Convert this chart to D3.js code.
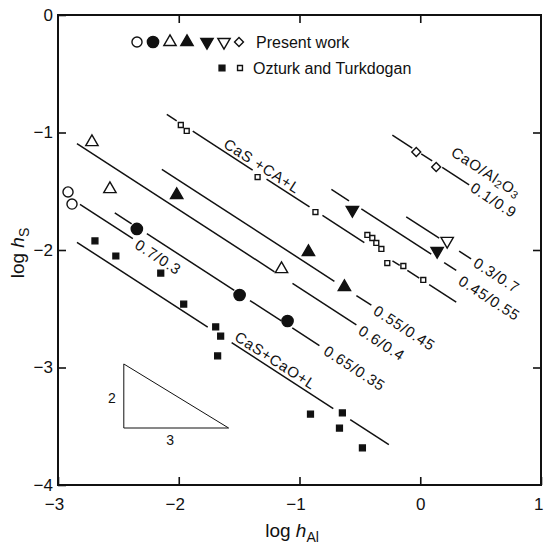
<!DOCTYPE html>
<html>
<head>
<meta charset="utf-8">
<script src="https://cdnjs.cloudflare.com/ajax/libs/d3/7.8.5/d3.min.js"></script>
<style>
body { margin: 0; background: #fff; }
svg text { font-family: "Liberation Sans", Arial, sans-serif; fill: #111; }
</style>
</head>
<body>
<svg id="chart" width="544" height="550"></svg>
<script>
// tick values
const xTicks = [-3, -2, -1, 0, 1];
const yTicks = [0, -1, -2, -3, -4];

// present work, [log hAl, log hS]
const openCircles = [[-2.917, -1.506], [-2.884, -1.609]];
const filledCircles = [[-2.347, -1.821], [-1.496, -2.383], [-1.099, -2.604]];
const openTriangles = [[-2.719, -1.081], [-2.570, -1.481], [-1.149, -2.162]];
const filledTriangles = [[-2.017, -1.532], [-0.926, -2.017], [-0.628, -2.315]];
const filledDown = [[-0.562, -1.660], [0.140, -2.009]];
const openDown = [[0.223, -1.923]];
const diamonds = [[-0.033, -1.166], [0.132, -1.294]];

// Ozturk and Turkdogan
const ozFilled = [[-2.694, -1.923], [-2.521, -2.051], [-2.149, -2.196], [-1.959, -2.460],
  [-1.694, -2.655], [-1.653, -2.732], [-1.678, -2.902], [-0.909, -3.396],
  [-0.645, -3.387], [-0.669, -3.515], [-0.479, -3.685]];
const ozOpen = [[-1.983, -0.936], [-1.934, -0.987], [-1.347, -1.379], [-0.868, -1.677],
  [-0.438, -1.872], [-0.397, -1.898], [-0.364, -1.940], [-0.322, -1.991],
  [-0.273, -2.111], [-0.140, -2.136], [0.025, -2.255]];

// iso lines log hS = c - 2/3 log hAl, drawn in pieces
const isoSlope = -2 / 3;
const isoLines = [
  { c: -1.176, segs: [[-0.231, -0.066], [0.008, 0.099], [0.182, 0.405]] },
  { c: -1.795, segs: [[-0.116, 0.157], [0.322, 0.421]] },
  { c: -1.975, segs: [[-0.736, -0.59], [-0.488, 0.091], [0.198, 0.298]] },
  { c: -2.245, segs: [[-2.099, -2.017], [-1.884, -1.388], [-1.273, -0.917], [-0.810, -0.463],
      [-0.23, -0.17], [-0.107, -0.008], [0.074, 0.298]] },
  { c: -2.74, segs: [[-2.14, -0.711], [-0.529, -0.405]] },
  { c: -2.99, segs: [[-2.843, -1.207], [-1.058, -0.529]] },
  { c: -3.37, segs: [[-2.53, -2.39], [-2.264, -1.54], [-1.41, -1.15], [-1.06, -0.835]] },
  { c: -3.49, segs: [[-2.818, -2.38]] },
  { c: -3.83, segs: [[-2.843, -1.76], [-1.562, -0.72], [-0.58, -0.26]] }
];

// labels along the lines: [text, log hAl, log hS] of the text start
const lineLabels = [
  ["0.1/0.9", 0.430, -1.455],
  ["0.3/0.7", 0.455, -2.094],
  ["0.45/0.55", 0.331, -2.247],
  ["0.55/0.45", -0.372, -2.502],
  ["0.6/0.4", -0.496, -2.672],
  ["0.65/0.35", -0.785, -2.843],
  ["0.7/0.3", -2.347, -1.940],
  ["CaS +CA+L", -1.612, -1.081],
  ["CaS+CaO+L", -1.521, -2.723]
];
const ratioLabelPos = [0.273, -1.149];

// slope triangle: corner, run, rise
const slopeTri = { x: -2.455, y: -3.515, run: 0.868, rise: 0.545 };

const svg = d3.select("#chart");
const x = d3.scaleLinear().domain([-3, 1]).range([58, 541]);
const y = d3.scaleLinear().domain([-4, 0]).range([485, 15]);
const ink = "#111";
const fmt = d => d < 0 ? "\u2212" + Math.abs(d) : String(d);

// axes, ticks pointing inwards
function styleAxis(g, size) {
  g.select(".domain").remove();
  g.selectAll(".tick line").attr("stroke", ink).attr("stroke-width", 1.6);
  g.selectAll(".tick text").attr("font-size", size).attr("font-family", null).attr("fill", ink);
}
svg.append("g").attr("transform", `translate(0,${y(-4)})`)
  .call(d3.axisBottom(x).tickValues(xTicks).tickSize(-8).tickPadding(13).tickFormat(fmt))
  .call(g => styleAxis(g, 17))
  .call(g => g.selectAll(".tick text")
    .attr("dx", d => d < 0 ? -4 : 0)
    .attr("text-anchor", d => d === 1 ? "end" : "middle")
    .attr("x", d => d === 1 ? 2 : 0));
svg.append("g").attr("transform", `translate(${x(-3)},0)`)
  .call(d3.axisLeft(y).tickValues(yTicks).tickSize(-8).tickPadding(5).tickFormat(fmt))
  .call(g => styleAxis(g, 17));
svg.append("g").attr("transform", `translate(0,${y(0)})`)
  .call(d3.axisTop(x).tickValues([-2, -1, 0]).tickSize(-8).tickFormat(""))
  .call(g => styleAxis(g, 0));
svg.append("g").attr("transform", `translate(${x(1)},0)`)
  .call(d3.axisRight(y).tickValues([-1, -2, -3]).tickSize(-8).tickFormat(""))
  .call(g => styleAxis(g, 0));

svg.append("rect")
  .attr("x", x(-3)).attr("y", y(0))
  .attr("width", x(1) - x(-3)).attr("height", y(-4) - y(0))
  .attr("fill", "none").attr("stroke", ink).attr("stroke-width", 2);

// axis titles
const yt = svg.append("text")
  .attr("transform", `translate(24,${(y(0) + y(-4)) / 2 + 3}) rotate(-90)`)
  .attr("text-anchor", "middle").attr("font-size", 19);
yt.append("tspan").text("log ");
yt.append("tspan").attr("font-style", "italic").text("h");
yt.append("tspan").attr("font-size", 14).attr("dy", 5).text("S");

const xt = svg.append("text")
  .attr("x", 292).attr("y", 537)
  .attr("text-anchor", "middle").attr("font-size", 19);
xt.append("tspan").text("log ");
xt.append("tspan").attr("font-style", "italic").text("h");
xt.append("tspan").attr("font-size", 14).attr("dy", 5).text("Al");

// iso lines
const angle = Math.atan2(y(isoSlope) - y(0), x(1) - x(0)) * 180 / Math.PI;
const lineG = svg.append("g").attr("stroke", ink).attr("stroke-width", 1.5);
isoLines.forEach(l => {
  l.segs.forEach(s => {
    lineG.append("line")
      .attr("x1", x(s[0])).attr("y1", y(l.c + isoSlope * s[0]))
      .attr("x2", x(s[1])).attr("y2", y(l.c + isoSlope * s[1]));
  });
});

svg.append("g").selectAll("text").data(lineLabels).join("text")
  .attr("transform", d => `translate(${x(d[1])},${y(d[2])}) rotate(${angle})`)
  .attr("dominant-baseline", "central")
  .attr("font-size", 15)
  .attr("letter-spacing", 0.8)
  .text(d => d[0]);

const rl = svg.append("text")
  .attr("transform", `translate(${x(ratioLabelPos[0])},${y(ratioLabelPos[1])}) rotate(${angle})`)
  .attr("dominant-baseline", "central")
  .attr("font-size", 15).attr("letter-spacing", 0.8);
rl.append("tspan").text("CaO/Al");
rl.append("tspan").attr("font-size", 11).attr("dy", 4).text("2");
rl.append("tspan").attr("dy", -4).text("O");
rl.append("tspan").attr("font-size", 11).attr("dy", 4).text("3");

// slope triangle
const t0 = [x(slopeTri.x), y(slopeTri.y)];
const t1 = [x(slopeTri.x + slopeTri.run), y(slopeTri.y)];
const t2 = [x(slopeTri.x), y(slopeTri.y + slopeTri.rise)];
svg.append("path")
  .attr("d", d3.line()([t2, t0, t1, t2]))
  .attr("fill", "none").attr("stroke", ink).attr("stroke-width", 1);
svg.append("text").attr("x", t0[0] - 12).attr("y", (t0[1] + t2[1]) / 2 + 2)
  .attr("text-anchor", "middle").attr("dominant-baseline", "central")
  .attr("font-size", 14).text("2");
svg.append("text").attr("x", (t0[0] + t1[0]) / 2 - 6).attr("y", t0[1] + 12)
  .attr("text-anchor", "middle").attr("dominant-baseline", "central")
  .attr("font-size", 14).text("3");

// markers
const kinds = {
  openCircle: { type: d3.symbolCircle, size: 80, fill: "#fff", rot: 0 },
  filledCircle: { type: d3.symbolCircle, size: 100, fill: ink, rot: 0 },
  openTri: { type: d3.symbolTriangle, size: 66, fill: "#fff", rot: 0 },
  filledTri: { type: d3.symbolTriangle, size: 66, fill: ink, rot: 0 },
  filledDown: { type: d3.symbolTriangle, size: 66, fill: ink, rot: 180 },
  openDown: { type: d3.symbolTriangle, size: 66, fill: "#fff", rot: 180 },
  diamond: { type: d3.symbolSquare, size: 40, fill: "#fff", rot: 45 },
  ozFilled: { type: d3.symbolSquare, size: 34, fill: ink, rot: 0 },
  ozOpen: { type: d3.symbolSquare, size: 24, fill: "#fff", rot: 0 }
};
function drawMarker(k, px, py) {
  const m = kinds[k];
  svg.append("path")
    .attr("d", d3.symbol().type(m.type).size(m.size)())
    .attr("transform", `translate(${px},${py}) rotate(${m.rot})`)
    .attr("fill", m.fill).attr("stroke", ink).attr("stroke-width", 1.4);
}
const series = [
  ["openCircle", openCircles], ["filledCircle", filledCircles],
  ["openTri", openTriangles], ["filledTri", filledTriangles],
  ["filledDown", filledDown], ["openDown", openDown], ["diamond", diamonds],
  ["ozFilled", ozFilled], ["ozOpen", ozOpen]
];
series.forEach(([k, pts]) => pts.forEach(p => drawMarker(k, x(p[0]), y(p[1]))));

// legend
const leg1 = ["openCircle", "filledCircle", "openTri", "filledTri", "filledDown", "openDown", "diamond"];
const leg1x = [137, 153, 170, 187, 207, 224, 239];
leg1.forEach((k, i) => drawMarker(k, leg1x[i], 42));
svg.append("text").attr("x", 256).attr("y", 42).attr("dominant-baseline", "central")
  .attr("font-size", 16).text("Present work");
drawMarker("ozFilled", 222, 68);
drawMarker("ozOpen", 240, 68);
svg.append("text").attr("x", 253).attr("y", 68).attr("dominant-baseline", "central")
  .attr("font-size", 16).text("Ozturk and Turkdogan");
</script>
</body>
</html>
